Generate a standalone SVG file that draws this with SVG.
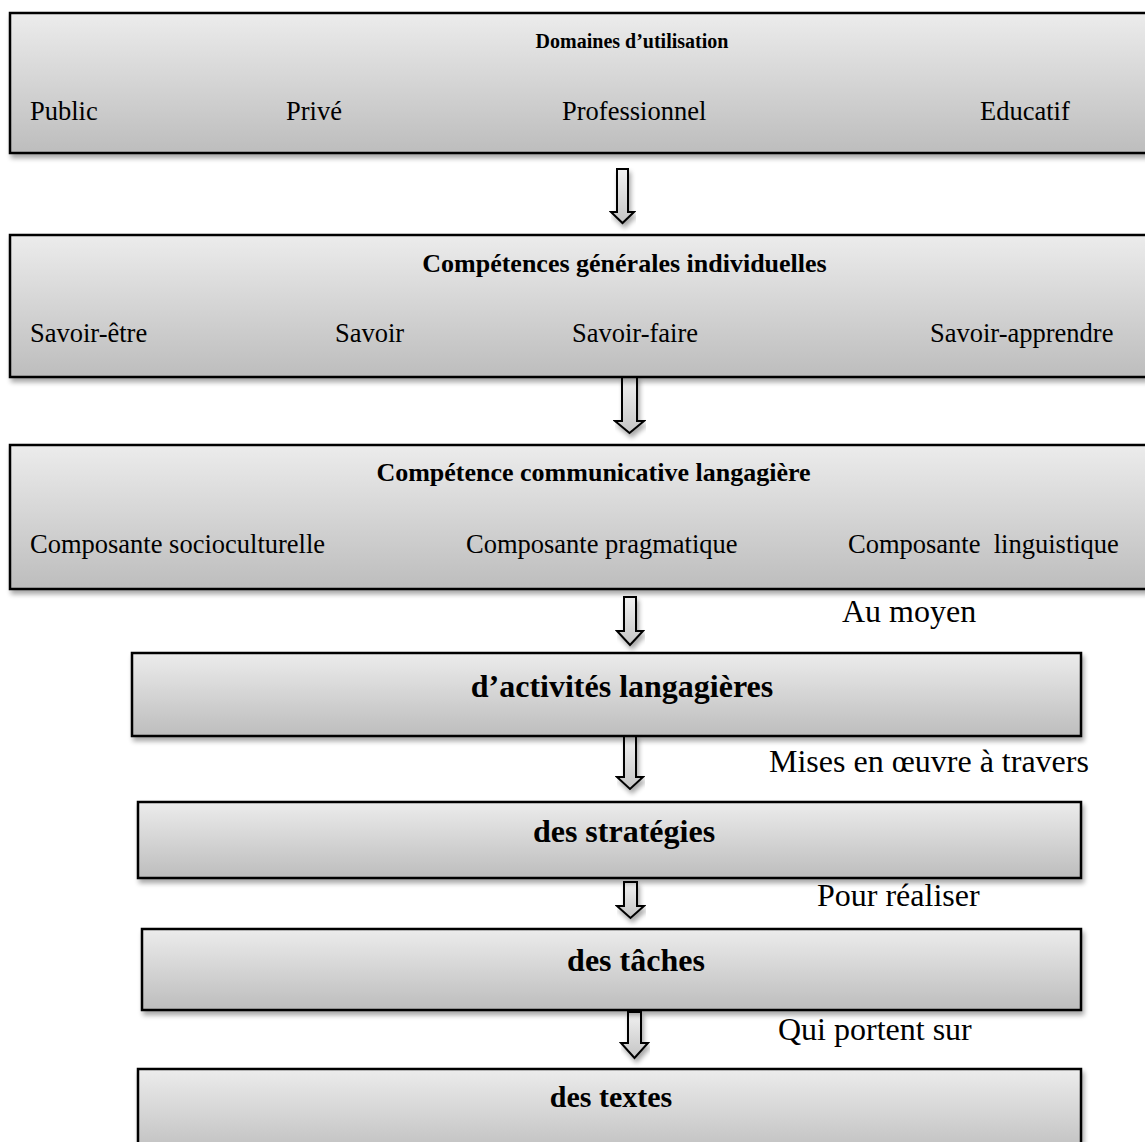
<svg xmlns="http://www.w3.org/2000/svg" width="1145" height="1142" viewBox="0 0 1145 1142">
<defs>
<linearGradient id="g" x1="0" y1="0" x2="0" y2="1">
<stop offset="0" stop-color="#ececec"/>
<stop offset="1" stop-color="#bdbdbd"/>
</linearGradient>
<linearGradient id="ga" x1="0" y1="0" x2="0" y2="1">
<stop offset="0" stop-color="#f2f2f2"/>
<stop offset="1" stop-color="#c4c4c4"/>
</linearGradient>
<filter id="sh" x="-5%" y="-20%" width="110%" height="150%">
<feGaussianBlur in="SourceAlpha" stdDeviation="2.5"/>
<feOffset dx="2" dy="4" result="b"/>
<feComponentTransfer><feFuncA type="linear" slope="0.35"/></feComponentTransfer>
<feMerge><feMergeNode/><feMergeNode in="SourceGraphic"/></feMerge>
</filter>
</defs>
<style>
.box{fill:url(#g);stroke:#000;stroke-width:2.5;filter:url(#sh)}
.arr{fill:url(#ga);stroke:#000;stroke-width:2;stroke-linejoin:miter;filter:url(#sh)}
text{font-family:"Liberation Serif","Times New Roman",serif;fill:#000}
.t{font-weight:bold;font-size:20px;text-anchor:middle}
.t2{font-weight:bold;font-size:26px;text-anchor:middle}
.r{font-size:26.5px}
.h{font-weight:bold;font-size:32px;text-anchor:middle}
.l{font-size:32px}
</style>
<g id="connectors">
<path class="arr" d="M617,169 H628 V212 H634 L622.5,223 L611,212 H617 Z"/>
<path class="arr" d="M622,377 H637 V421 H644 L629.5,433 L615,421 H622 Z"/>
<path class="arr" d="M624,597 H636 V631 H643 L630,645 L617,631 H624 Z"/>
<path class="arr" d="M624,736 H636 V777 H643 L630,789 L617,777 H624 Z"/>
<path class="arr" d="M624,882 H637 V906 H644 L630.5,918 L617,906 H624 Z"/>
<path class="arr" d="M628,1012 H641 V1043 H648 L634.5,1058 L621,1043 H628 Z"/>
</g>
<g id="n1">
<rect class="box" x="10" y="13" width="1145" height="140"/>
<text class="t" x="632" y="48">Domaines d’utilisation</text>
<text class="r" x="30" y="120">Public</text>
<text class="r" x="286" y="120">Privé</text>
<text class="r" x="562" y="120">Professionnel</text>
<text class="r" x="980" y="120">Educatif</text>
</g>
<g id="n2">
<rect class="box" x="10" y="235" width="1145" height="142"/>
<text class="t2" x="624.5" y="272">Compétences générales individuelles</text>
<text class="r" x="30" y="342">Savoir-être</text>
<text class="r" x="335" y="342">Savoir</text>
<text class="r" x="572" y="342">Savoir-faire</text>
<text class="r" x="930" y="342">Savoir-apprendre</text>
</g>
<g id="n3">
<rect class="box" x="10" y="445" width="1145" height="144"/>
<text class="t2" x="593.5" y="481">Compétence communicative langagière</text>
<text class="r" x="30" y="553">Composante socioculturelle</text>
<text class="r" x="466" y="553">Composante pragmatique</text>
<text class="r" x="848" y="553" xml:space="preserve">Composante  linguistique</text>
</g>
<text class="l" x="842" y="622">Au moyen</text>
<g id="n4">
<rect class="box" x="132" y="653" width="949" height="83"/>
<text class="h" x="622" y="697">d’activités langagières</text>
</g>
<text class="l" x="769" y="772">Mises en œuvre à travers</text>
<g id="n5">
<rect class="box" x="138" y="802" width="943" height="76"/>
<text class="h" x="624" y="842">des stratégies</text>
</g>
<text class="l" x="817" y="906">Pour réaliser</text>
<g id="n6">
<rect class="box" x="142" y="929" width="939" height="81"/>
<text class="h" x="636" y="971">des tâches</text>
</g>
<text class="l" x="778" y="1040">Qui portent sur</text>
<g id="n7">
<rect class="box" x="138" y="1069" width="943" height="90"/>
<text class="h" x="611" y="1107" style="font-size:30px">des textes</text>
</g>
</svg>
